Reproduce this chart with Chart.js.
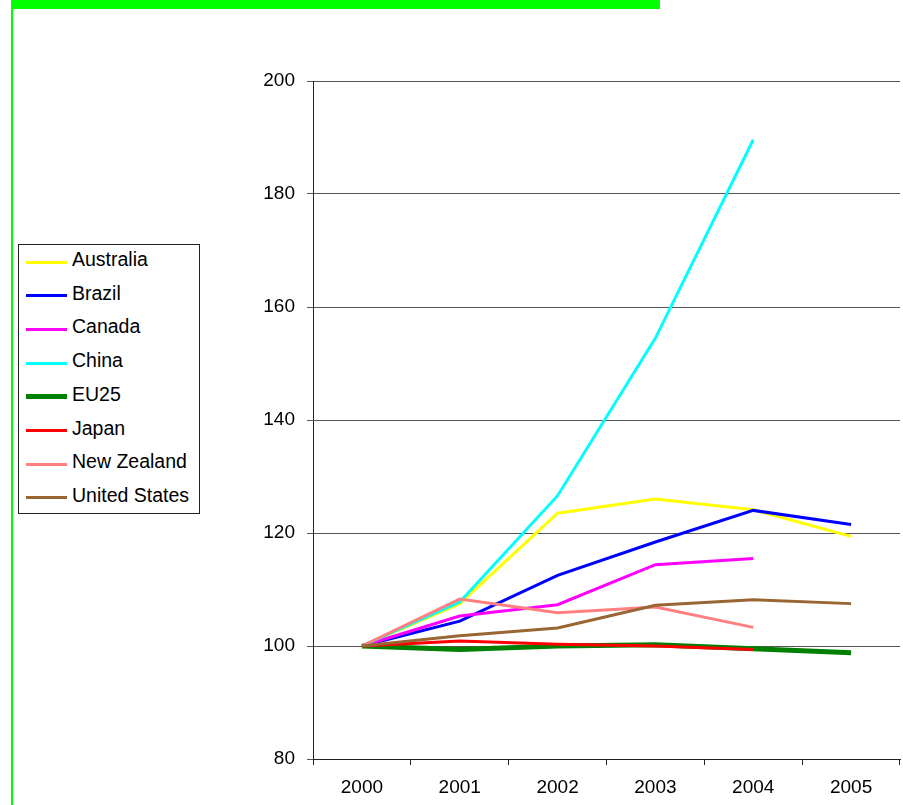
<!DOCTYPE html>
<html lang="en">

<head>
    <meta charset="UTF-8">
    <title>Index 2000 = 100</title>
    <script src="https://cdn.jsdelivr.net/npm/chart.js"></script>
    <style>
        body {
            margin: 0;
            background: #ffffff;
            font-family: "Liberation Sans", Arial, sans-serif;
        }

        #wrap {
            position: relative;
            width: 903px;
            height: 805px;
            overflow: hidden;
        }

        #grafico {
            position: absolute;
            left: 0;
            top: 0;
        }

        /* faixa verde no topo e linha verde na esquerda */
        #faixa {
            position: absolute;
            left: 12px;
            top: 0;
            width: 648px;
            height: 9px;
            background: #00ff00;
        }

        #linhaEsq {
            position: absolute;
            left: 11px;
            top: 0;
            width: 2px;
            height: 805px;
            background: #00ff00;
        }

        #legenda {
            position: absolute;
            left: 18px;
            top: 244px;
            width: 180px;
            height: 268px;
            border: 1px solid #222;
            background: #fff;
        }

        .item {
            position: absolute;
            left: 0;
            height: 24px;
            font-size: 19px;
            line-height: 24px;
            color: #000;
            white-space: nowrap;
        }

        .item span.amostra {
            position: absolute;
            left: 7px;
            width: 41px;
        }

        .item span.nome {
            position: absolute;
            left: 53px;
            top: -3px;
            font-size: 19.5px;
        }
    </style>
</head>

<body>
    <div id="wrap">
        <canvas id="grafico" width="903" height="805"></canvas>
        <div id="faixa"></div>
        <div id="linhaEsq"></div>
        <div id="legenda"></div>
    </div>

    <script>
        // dados (indice, 2000 = 100)
        const anos = ['2000', '2001', '2002', '2003', '2004', '2005'];
        const yTicks = [80, 100, 120, 140, 160, 180, 200];

        const australia = [100, 107.5, 123.5, 126.0, 124.1, 119.4];
        const brazil = [100, 104.4, 112.5, 118.4, 124.0, 121.5];
        const canada = [100, 105.3, 107.3, 114.4, 115.5, null];
        const china = [100, 107.8, 126.6, 154.5, 189.6, null];
        const eu25 = [100, 99.4, 100.0, 100.2, 99.5, 98.8];
        const japan = [100, 100.9, 100.3, 100.0, 99.4, null];
        const newZealand = [100, 108.3, 105.9, 106.9, 103.3, null];
        const unitedStates = [100, 101.8, 103.2, 107.2, 108.2, 107.5];

        const series = [
            { nome: 'Australia', valores: australia, cor: '#ffff00', largura: 3 },
            { nome: 'Brazil', valores: brazil, cor: '#0000ff', largura: 3 },
            { nome: 'Canada', valores: canada, cor: '#ff00ff', largura: 3 },
            { nome: 'China', valores: china, cor: '#00ffff', largura: 3 },
            { nome: 'EU25', valores: eu25, cor: '#008000', largura: 5 },
            { nome: 'Japan', valores: japan, cor: '#ff0000', largura: 3 },
            { nome: 'New Zealand', valores: newZealand, cor: '#ff8080', largura: 3 },
            { nome: 'United States', valores: unitedStates, cor: '#996633', largura: 3 }
        ];

        const fonte = { family: '"Liberation Sans", Arial, sans-serif', size: 19 };

        const datasets = series.map(function (s, i) {
            return {
                label: s.nome,
                data: s.valores,
                borderColor: s.cor,
                backgroundColor: s.cor,
                borderWidth: s.largura,
                pointRadius: 0,
                tension: 0,
                spanGaps: false,
                order: -i // ultima serie por cima, como no Excel
            };
        });

        const config = {
            type: 'line',
            data: { labels: anos, datasets: datasets },
            options: {
                responsive: false,
                animation: false,
                layout: { padding: { top: 81, right: 3, left: 0, bottom: 0 } },
                plugins: {
                    legend: { display: false },
                    tooltip: { enabled: false }
                },
                scales: {
                    x: {
                        offset: true,
                        grid: {
                            offset: true,
                            drawOnChartArea: false,
                            drawTicks: true,
                            tickLength: 6,
                            color: '#222'
                        },
                        border: { color: '#222', width: 1 },
                        ticks: { color: '#000', font: fonte, padding: 11, maxRotation: 0 },
                        afterFit: function (scale) { scale.height = 46; }
                    },
                    y: {
                        min: 80,
                        max: 200,
                        afterBuildTicks: function (scale) {
                            scale.ticks = yTicks.map(function (v) { return { value: v }; });
                        },
                        grid: {
                            color: '#555',
                            tickLength: 6,
                            lineWidth: 1
                        },
                        border: { color: '#222', width: 1 },
                        ticks: { color: '#000', font: fonte, padding: 12 },
                        afterFit: function (scale) { scale.width = 313; }
                    }
                }
            }
        };

        const myChart = new Chart(document.getElementById('grafico'), config);

        // legenda em HTML, montada a partir das series
        const legenda = document.getElementById('legenda');
        series.forEach(function (s, i) {
            const item = document.createElement('div');
            item.className = 'item';
            item.style.top = (5 + i * 33.7) + 'px';
            const amostra = document.createElement('span');
            amostra.className = 'amostra';
            amostra.style.height = s.largura + 'px';
            amostra.style.top = (12 - s.largura / 2) + 'px';
            amostra.style.background = s.cor;
            const nome = document.createElement('span');
            nome.className = 'nome';
            nome.textContent = s.nome;
            item.appendChild(amostra);
            item.appendChild(nome);
            legenda.appendChild(item);
        });
    </script>
</body>

</html>
